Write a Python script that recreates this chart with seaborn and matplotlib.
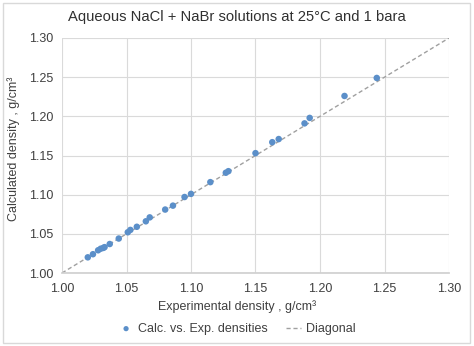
import matplotlib
matplotlib.use("Agg")
import matplotlib.pyplot as plt
import seaborn as sns
import pandas as pd
from matplotlib.patches import Rectangle

exp_density = [1.020, 1.024, 1.028, 1.030, 1.032, 1.033, 1.037, 1.044, 1.051, 1.053,
               1.058, 1.065, 1.068, 1.080, 1.086, 1.095, 1.100, 1.115, 1.127, 1.129,
               1.150, 1.163, 1.168, 1.188, 1.192, 1.219, 1.244]
calc_density = [1.020, 1.024, 1.029, 1.031, 1.032, 1.033, 1.037, 1.044, 1.052, 1.055,
                1.059, 1.066, 1.071, 1.081, 1.086, 1.097, 1.101, 1.116, 1.128, 1.130,
                1.153, 1.167, 1.171, 1.191, 1.198, 1.226, 1.249]
diag = [1.00, 1.30]
ticks = [1.00, 1.05, 1.10, 1.15, 1.20, 1.25, 1.30]

sns.set_theme(style="white")
plt.rcParams['font.family'] = ['Liberation Sans', 'DejaVu Sans']

fig = plt.figure(figsize=(4.74, 3.46), dpi=100)
ax = fig.add_axes([62/474, 73/346, 387/474, 235/346])
xc = (237 - 62) / 387  # figure centre in axes coords

df = pd.DataFrame({"exp": exp_density, "calc": calc_density})
dd = pd.DataFrame({"x": diag, "y": diag})

sns.lineplot(data=dd, x="x", y="y", ax=ax, color="#A0A0A0", linestyle=(0, (3, 2)),
             linewidth=1.0, label="Diagonal", zorder=2)
sns.scatterplot(data=df, x="exp", y="calc", ax=ax, color="#5B8FC9", s=22,
                edgecolor="none", label="Calc. vs. Exp. densities", zorder=3)

ax.set_xlim(1.0, 1.3)
ax.set_ylim(1.0, 1.3)
ax.set_xticks(ticks)
ax.set_yticks(ticks)
ax.set_xticklabels([f"{t:.2f}" for t in ticks], fontsize=9, color="#404040")
ax.set_yticklabels([f"{t:.2f}" for t in ticks], fontsize=9, color="#404040")
ax.tick_params(axis="x", length=0, pad=7.5)
ax.tick_params(axis="y", length=0, pad=6.5)
ax.grid(True, color="#DADADA", linewidth=0.8)
for s in ax.spines.values():
    s.set_visible(False)
ax.spines['bottom'].set_visible(True)
ax.spines['bottom'].set_color("#D0D0D0")

ax.set_xlabel("Experimental density , g/cm³", fontsize=9, color="#404040",
              labelpad=3.5, x=xc)
ax.set_ylabel("Calculated density , g/cm³", fontsize=9, color="#404040",
              labelpad=6.5, y=0.528)
ax.set_title("Aqueous NaCl + NaBr solutions at 25°C and 1 bara", fontsize=10.6,
             color="#303030", pad=12, x=xc)

h, l = ax.get_legend_handles_labels()
order = [1, 0]
ax.legend([h[i] for i in order], [l[i] for i in order], loc="center",
          bbox_to_anchor=(xc, -0.238), ncol=2, frameon=False, fontsize=9,
          handlelength=1.2, columnspacing=1.5, handletextpad=0.35,
          markerscale=0.8, labelcolor="#404040")

fig.patches.append(Rectangle((3/474, 3/346), 467/474, 340/346, transform=fig.transFigure,
                             fill=False, edgecolor="#D9D9D9", linewidth=1.0))

fig.savefig("out.png", dpi=100)
